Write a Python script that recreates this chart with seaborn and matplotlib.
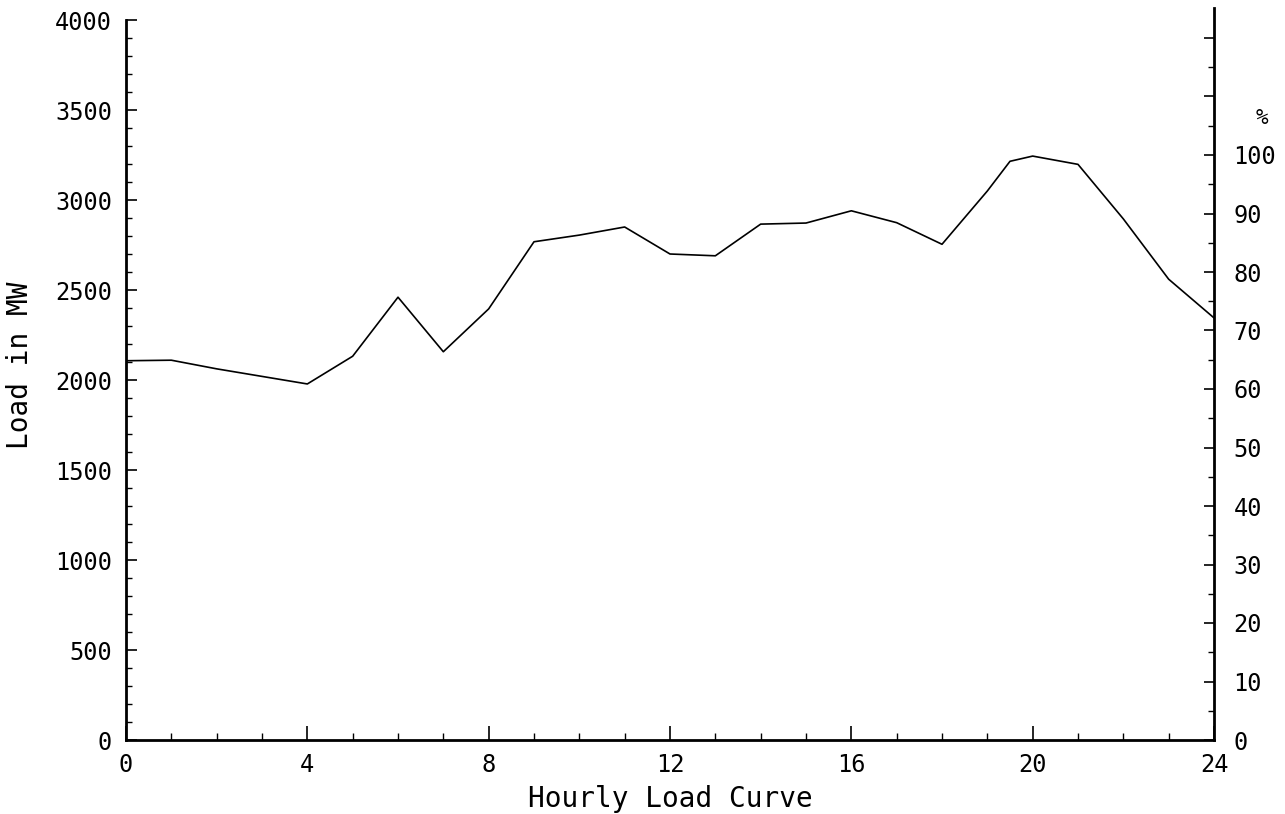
import matplotlib
matplotlib.use("Agg")
import matplotlib.pyplot as plt
import numpy as np
import pandas as pd
import seaborn as sns
from matplotlib.ticker import MultipleLocator, FuncFormatter

# ---- data ----
hours = [0, 1, 2, 3, 4, 5, 6, 7, 8, 9, 10, 11, 12, 13, 14, 15, 16, 17, 18,
         19, 19.5, 20, 21, 22, 23, 24]
load_mw = [2107, 2110, 2062, 2020, 1978, 2132, 2460, 2157, 2395, 2768, 2805,
           2850, 2700, 2690, 2866, 2872, 2940, 2874, 2754,
           3050, 3215, 3244, 3198, 2895, 2560, 2345]
x_major = [0, 4, 8, 12, 16, 20, 24]
y_major = [0, 500, 1000, 1500, 2000, 2500, 3000, 3500, 4000]
pct_labels = [0, 10, 20, 30, 40, 50, 60, 70, 80, 90, 100]
peak_mw = 3250  # 100 %

sns.set_theme(style="white")
plt.rcParams['font.family'] = ['DejaVu Sans Mono', 'DejaVu Sans']

fig = plt.figure(figsize=(12.85, 8.14), dpi=100)
ax = fig.add_axes([126/1285, 74/814, 1088/1285, 720/814])

df = pd.DataFrame({"hour": hours, "load": load_mw})
sns.lineplot(data=df, x="hour", y="load", ax=ax, color="black", lw=1.2)

ax.set_xlim(0, 24)
ax.set_ylim(0, 4000)
ax.set_xticks(x_major)
ax.set_xticklabels([str(v) for v in x_major])
ax.xaxis.set_minor_locator(MultipleLocator(1))
ax.set_yticks(y_major)
ax.set_yticklabels([str(v) for v in y_major])
ax.yaxis.set_minor_locator(MultipleLocator(100))

ax.tick_params(axis='x', which='major', direction='in', length=10, width=1.2,
               labelsize=17, pad=9, color='black', labelcolor='black', bottom=True)
ax.tick_params(axis='x', which='minor', direction='in', length=5, width=1.0,
               color='black', bottom=True)
ax.tick_params(axis='y', which='major', direction='in', length=8, width=1.2,
               labelsize=17, pad=10, color='black', labelcolor='black', left=True)
ax.tick_params(axis='y', which='minor', direction='in', length=4, width=1.0,
               color='black', left=True)

for s in ['top', 'right']:
    ax.spines[s].set_visible(False)
for s in ['left', 'bottom']:
    ax.spines[s].set_color('black')
    ax.spines[s].set_linewidth(2.0)

ax.set_xlabel("Hourly Load Curve", fontsize=20, color='black')
ax.set_ylabel("Load in MW", fontsize=20, color='black')
ax.xaxis.set_label_coords(0.5, -0.062)
ax.yaxis.set_label_coords(-0.085, 0.52)

ax2 = ax.twinx()
ax2.set_ylim(0, 4000 / peak_mw * 100)
ax2.yaxis.set_major_locator(MultipleLocator(10))
ax2.yaxis.set_minor_locator(MultipleLocator(5))
ax2.yaxis.set_major_formatter(FuncFormatter(
    lambda v, p: str(int(round(v))) if round(v) in pct_labels else ""))
ax2.tick_params(axis='y', which='major', direction='in', length=7, width=1.2,
                labelsize=17, pad=14, color='black', labelcolor='black', right=True)
ax2.tick_params(axis='y', which='minor', direction='in', length=4, width=1.0,
                color='black', right=True)
for s in ['top', 'left', 'bottom']:
    ax2.spines[s].set_visible(False)
ax2.spines['right'].set_color('black')
ax2.spines['right'].set_linewidth(2.0)
ax2.spines['right'].set_bounds(0, 125.2)

fig.text(1262/1285, 1 - 118/814, "%", ha='center', va='center', fontsize=15,
         color='black')

fig.savefig("out.png", dpi=100, facecolor='white')
